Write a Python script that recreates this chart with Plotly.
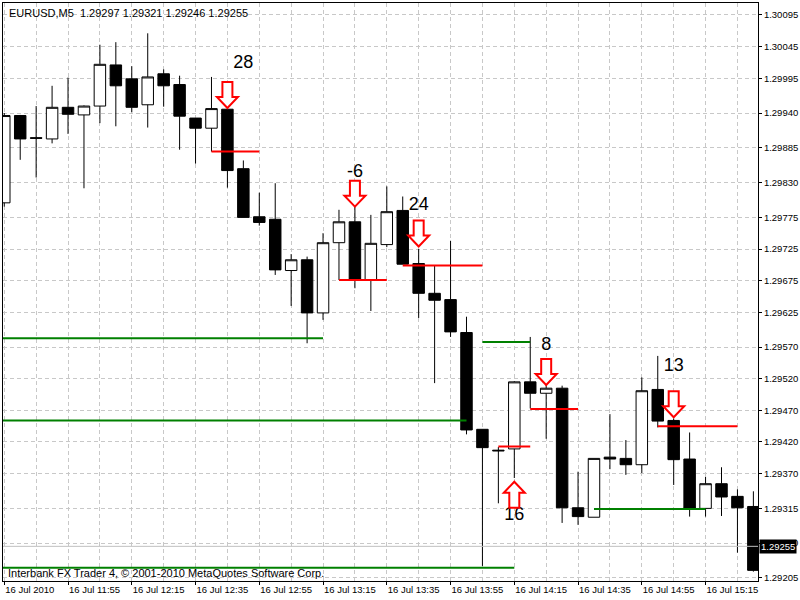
import plotly.graph_objects as go

# EURUSD M5 bars, 16 Jul 2010, first bar 11:35
opens = [1.29798, 1.29936, 1.29901, 1.29899, 1.29949, 1.29937, 1.29951, 1.30016, 1.29994, 1.29953,
         1.30002, 1.29985, 1.29932, 1.29916, 1.29946, 1.29852, 1.29776, 1.29772, 1.29691, 1.29708,
         1.29624, 1.29735, 1.29768, 1.29676, 1.29732, 1.29786, 1.29702, 1.29655, 1.29645, 1.29593,
         1.29440, 1.29407, 1.29409, 1.29515, 1.29497, 1.29505, 1.29316, 1.29301, 1.29396, 1.29394,
         1.29384, 1.29503, 1.29454, 1.29393, 1.29315, 1.29354, 1.29334, 1.29318]
highs = [1.29940, 1.29937, 1.29951, 1.29983, 1.29996, 1.29952, 1.30048, 1.30052, 1.30014, 1.30066,
         1.30009, 1.29999, 1.29932, 1.29997, 1.29947, 1.29865, 1.29814, 1.29829, 1.29717, 1.29713,
         1.29750, 1.29787, 1.29792, 1.29779, 1.29824, 1.29808, 1.29725, 1.29699, 1.29738, 1.29618,
         1.29440, 1.29412, 1.29516, 1.29586, 1.29510, 1.29509, 1.29373, 1.29394, 1.29464, 1.29423,
         1.29522, 1.29556, 1.29457, 1.29435, 1.29365, 1.29380, 1.29345, 1.29342]
lows = [1.29792, 1.29866, 1.29838, 1.29892, 1.29907, 1.29821, 1.29924, 1.29919, 1.29941, 1.29917,
        1.29950, 1.29882, 1.29860, 1.29879, 1.29822, 1.29775, 1.29762, 1.29684, 1.29635, 1.29576,
        1.29613, 1.29676, 1.29663, 1.29627, 1.29728, 1.29701, 1.29616, 1.29513, 1.29586, 1.29432,
        1.29224, 1.29323, 1.29363, 1.29473, 1.29425, 1.29292, 1.29289, 1.29301, 1.29377, 1.29368,
        1.29371, 1.29443, 1.29352, 1.29302, 1.29302, 1.29303, 1.29245, 1.29215]
closes = [1.29936, 1.29899, 1.29900, 1.29949, 1.29938, 1.29951, 1.30017, 1.29983, 1.29949, 1.29997,
          1.29983, 1.29935, 1.29916, 1.29947, 1.29849, 1.29775, 1.29767, 1.29692, 1.29708, 1.29624,
          1.29735, 1.29768, 1.29676, 1.29734, 1.29784, 1.29701, 1.29655, 1.29644, 1.29594, 1.29439,
          1.29411, 1.29406, 1.29515, 1.29497, 1.29505, 1.29316, 1.29302, 1.29394, 1.29393, 1.29384,
          1.29501, 1.29453, 1.29392, 1.29315, 1.29354, 1.29333, 1.29316, 1.29217]
bars = list(range(len(opens)))

time_ticks = [0, 4, 8, 12, 16, 20, 24, 28, 32, 36, 40, 44]
time_labels = ["16 Jul 2010", "16 Jul 11:55", "16 Jul 12:15", "16 Jul 12:35", "16 Jul 12:55",
               "16 Jul 13:15", "16 Jul 13:35", "16 Jul 13:55", "16 Jul 14:15", "16 Jul 14:35",
               "16 Jul 14:55", "16 Jul 15:15"]
price_ticks = [1.30095, 1.30045, 1.29995, 1.29940, 1.29885, 1.29830, 1.29775, 1.29725, 1.29675,
               1.29625, 1.29570, 1.29520, 1.29470, 1.29420, 1.29370, 1.29315, 1.29260, 1.29205]

# horizontal level segments (start bar, end bar, price)
red_start = [13, 21, 25, 31, 33, 41]
red_end = [16, 24, 30, 33, 36, 46]
red_price = [1.29879, 1.29676, 1.29699, 1.29413, 1.29472, 1.29445]
green_start = [-1, 30, -1, -1, 37]
green_end = [20, 33, 29, 32, 44]
green_price = [1.29584, 1.29578, 1.29454, 1.29221, 1.29314]

# signal arrows and their labels
down_bars = [14, 22, 26, 34, 42]
down_tips = [1.29948, 1.29792, 1.29729, 1.29510, 1.29459]
up_bars = [32]
up_tips = [1.29357]
label_bars = [15, 22, 26, 34, 42, 32]
label_prices = [1.30018, 1.29846, 1.29794, 1.29572, 1.29539, 1.29304]
label_texts = ["28", "-6", "24", "8", "13", "16"]

bid = 1.29255

FONT = "Liberation Sans"
DOWN_PATH = "M 0 0 L -10.5 11 L -5 11 L -5 26 L 5 26 L 5 11 L 10.5 11 Z"
UP_PATH = "M 0 0 L -10.5 -11 L -5 -11 L -5 -26 L 5 -26 L 5 -11 L 10.5 -11 Z"


def segments(starts, ends, prices):
    xs, ys = [], []
    for a, b, p in zip(starts, ends, prices):
        xs += [a, b, None]
        ys += [p, p, None]
    return xs, ys


fig = go.Figure()

fig.add_trace(go.Scatter(x=[-1, 48], y=[bid, bid], mode="lines",
                         line=dict(color="#c0c0c0", width=1), hoverinfo="skip"))

gx, gy = segments(green_start, green_end, green_price)
fig.add_trace(go.Scatter(x=gx, y=gy, mode="lines", line=dict(color="#008000", width=2)))

fig.add_trace(go.Candlestick(
    x=bars, open=opens, high=highs, low=lows, close=closes,
    increasing=dict(line=dict(color="black", width=1), fillcolor="white"),
    decreasing=dict(line=dict(color="black", width=1), fillcolor="black"),
    whiskerwidth=0,
))

rx, ry = segments(red_start, red_end, red_price)
fig.add_trace(go.Scatter(x=rx, y=ry, mode="lines", line=dict(color="#ff0000", width=2)))

fig.add_trace(go.Scatter(x=label_bars, y=label_prices, text=label_texts, mode="text",
                         textposition="middle center",
                         textfont=dict(family=FONT, size=18, color="black")))

shapes = []
for b, p in zip(down_bars, down_tips):
    shapes.append(dict(type="path", xref="x", yref="y", xsizemode="pixel", ysizemode="pixel",
                       xanchor=b, yanchor=p, path=DOWN_PATH, fillcolor="white",
                       line=dict(color="#ff0000", width=2), layer="above"))
for b, p in zip(up_bars, up_tips):
    shapes.append(dict(type="path", xref="x", yref="y", xsizemode="pixel", ysizemode="pixel",
                       xanchor=b, yanchor=p, path=UP_PATH, fillcolor="white",
                       line=dict(color="#ff0000", width=2), layer="above"))

fig.update_layout(
    width=800, height=600,
    margin=dict(l=2, r=40, t=2, b=19),
    paper_bgcolor="white", plot_bgcolor="white",
    showlegend=False,
    boxgap=0.28, boxgroupgap=0,
    shapes=shapes,
    font=dict(family=FONT, size=9.5, color="black"),
    annotations=[
        dict(text="EURUSD,M5\u00a0\u00a01.29297 1.29321 1.29246 1.29255", xref="paper", yref="paper",
             x=0, y=1, xanchor="left", yanchor="top", xshift=4, yshift=-2, showarrow=False,
             font=dict(family=FONT, size=11, color="black")),
        dict(text="Interbank FX Trader 4, \u00a9 2001-2010 MetaQuotes Software Corp.",
             xref="paper", yref="paper", x=0, y=0, xanchor="left", yanchor="bottom",
             xshift=3, yshift=0, showarrow=False,
             font=dict(family=FONT, size=11, color="black")),
        dict(text="1.29255", xref="paper", yref="y", x=1, y=bid, xanchor="left", yanchor="middle",
             xshift=1, showarrow=False, bgcolor="black", borderpad=1,
             font=dict(family=FONT, size=9.5, color="white")),
    ],
)

fig.update_xaxes(
    range=[-0.08, 47.29],
    tickmode="array", tickvals=time_ticks, ticktext=time_labels,
    ticks="outside", ticklen=3, tickcolor="black",
    ticklabelposition="outside right",
    showline=True, linecolor="black", linewidth=1, mirror=True,
    showgrid=True, gridcolor="#c8c8c8", griddash="4px,3px", gridwidth=1,
    minor=dict(tickmode="linear", tick0=0, dtick=2, showgrid=True, gridcolor="#c8c8c8",
               griddash="4px,3px", ticks=""),
    zeroline=False, rangeslider=dict(visible=False), fixedrange=True,
)
fig.update_yaxes(
    range=[1.292002, 1.301139], side="right",
    tickmode="array", tickvals=price_ticks, tickformat=".5f",
    ticks="outside", ticklen=3, tickcolor="black",
    showline=True, linecolor="black", linewidth=1, mirror=True,
    showgrid=True, gridcolor="#c8c8c8", griddash="4px,3px", gridwidth=1,
    zeroline=False, fixedrange=True,
)

# the page opens at exactly 800x600, so drop the default body margin
fig.write_html("out.html", config={"displayModeBar": False},
               post_script="document.body.style.margin='0';")
